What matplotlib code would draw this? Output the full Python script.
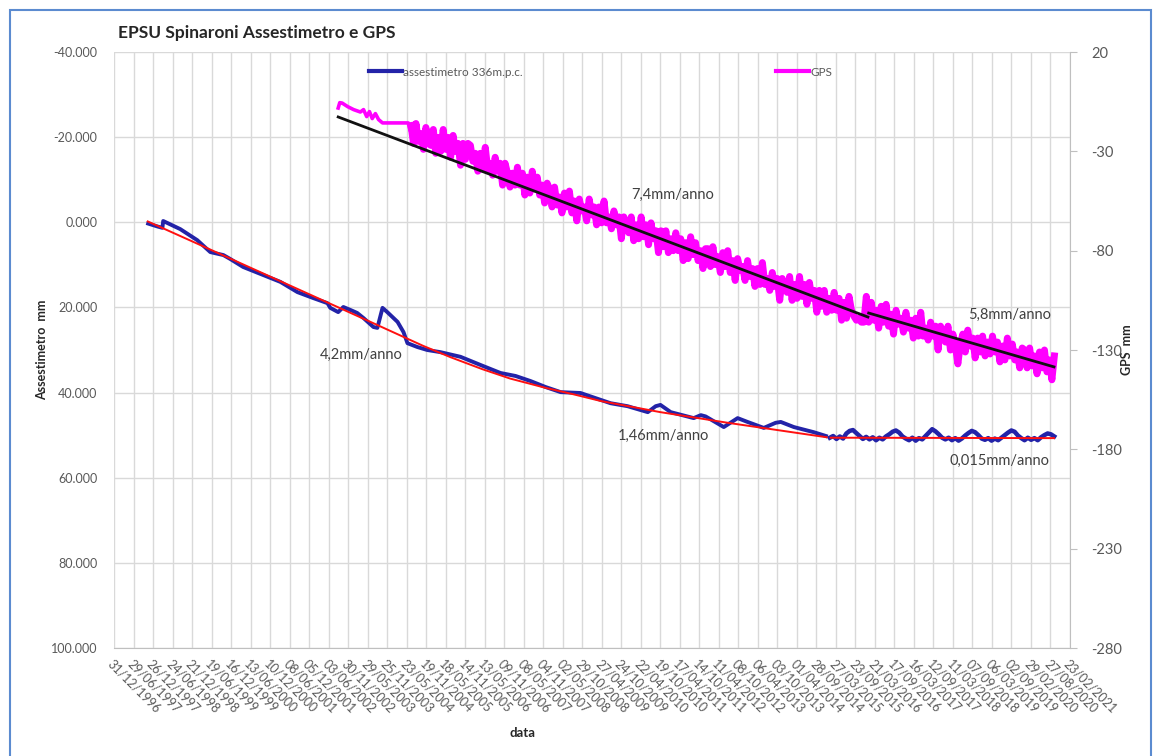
import numpy as np
import pandas as pd
import matplotlib
matplotlib.use("Agg")
import matplotlib.pyplot as plt
from matplotlib.lines import Line2D

plt.rcParams['font.family'] = ['Lato', 'DejaVu Sans']

# etichette asse x (passo 180 giorni, come in Excel)
date_labels = [
    "31/12/1996", "29/06/1997", "26/12/1997", "24/06/1998", "21/12/1998", "19/06/1999",
    "16/12/1999", "13/06/2000", "10/12/2000", "08/06/2001", "05/12/2001", "03/06/2002",
    "30/11/2002", "29/05/2003", "25/11/2003", "23/05/2004", "19/11/2004", "18/05/2005",
    "14/11/2005", "13/05/2006", "09/11/2006", "08/05/2007", "04/11/2007", "02/05/2008",
    "29/10/2008", "27/04/2009", "24/10/2009", "22/04/2010", "19/10/2010", "17/04/2011",
    "14/10/2011", "11/04/2012", "08/10/2012", "06/04/2013", "03/10/2013", "01/04/2014",
    "28/09/2014", "27/03/2015", "23/09/2015", "21/03/2016", "17/09/2016", "16/03/2017",
    "12/09/2017", "11/03/2018", "07/09/2018", "06/03/2019", "02/09/2019", "29/02/2020",
    "27/08/2020", "23/02/2021",
]
left_ticks = [-40, -20, 0, 20, 40, 60, 80, 100]
left_labels = ["-40.000", "-20.000", "0.000", "20.000", "40.000", "60.000", "80.000", "100.000"]
right_ticks = [20, -30, -80, -130, -180, -230, -280]

# assestimetro 336 m.p.c. (anno decimale, mm)
ass_years = [1997.86, 1998.10, 1998.22, 1998.24, 1998.67, 1999.10, 1999.43, 1999.76, 1999.93,
             2000.26, 2000.77, 2001.20, 2001.63, 2002.03, 2002.39, 2002.46, 2002.66, 2002.79,
             2002.97, 2003.14, 2003.30, 2003.55, 2003.65, 2003.78, 2003.90, 2004.16, 2004.31,
             2004.41, 2004.66, 2004.91, 2005.24, 2005.75, 2006.25, 2006.76, 2007.14, 2007.52,
             2007.90, 2008.28, 2008.78, 2009.16, 2009.54, 2009.97, 2010.48, 2010.68, 2010.80,
             2011.06, 2011.64, 2011.82, 2011.94, 2012.40, 2012.75, 2013.00, 2013.41, 2013.71,
             2013.84, 2014.17, 2014.67, 2014.98]
ass_mm = [0.3, 1.0, 1.3, -0.3, 1.6, 4.2, 7.0, 7.7, 8.6,
          10.5, 12.4, 14.0, 16.4, 17.8, 19.0, 20.1, 21.1, 19.9,
          20.6, 21.3, 22.5, 24.6, 24.8, 20.1, 21.1, 23.4, 25.8,
          28.4, 29.3, 30.0, 30.5, 31.6, 33.5, 35.4, 36.1, 37.3,
          38.7, 39.9, 40.1, 41.3, 42.5, 43.2, 44.6, 43.2, 42.9,
          44.6, 46.0, 45.3, 45.6, 48.1, 46.0, 46.9, 48.3, 47.1,
          46.9, 48.1, 49.3, 50.2]
# tratto finale (mensile dal 2015.08)
ass2_start = 2015.08
ass2_mm = [
    50.6, 50.2, 50.9, 50.3, 50.8, 49.6, 49.0, 48.8, 49.5, 50.2, 50.9, 50.4,
    51.0, 50.5, 51.2, 50.6, 51.0, 50.3, 49.8, 49.2, 48.9, 49.4, 50.3, 50.8,
    51.2, 50.6, 51.3, 50.7, 51.0, 50.2, 49.4, 48.6, 49.1, 49.8, 50.6, 51.0,
    50.6, 51.2, 50.7, 51.3, 50.8, 50.1, 49.5, 49.0, 49.3, 50.0, 50.8, 51.1,
    50.7, 51.3, 50.8, 51.2, 50.6, 50.0, 49.4, 48.9, 49.2, 50.1, 50.7, 51.2,
    50.6, 51.1, 50.7, 51.2, 50.5, 50.0, 49.6, 49.8, 50.3,
]

# linea di tendenza assestimetro
trend_years = [1997.85, 1999.0, 2000.5, 2002.0, 2003.5, 2004.8, 2005.5, 2006.3, 2007.0,
               2007.9, 2008.6, 2009.3, 2010.8, 2012.5, 2015.0]
trend_mm = [-0.2, 4.6, 10.9, 17.2, 23.5, 29.0, 31.7, 34.5, 36.7,
            38.9, 40.4, 42.0, 44.6, 47.1, 50.5]
flat_years = [2015.1, 2020.74]
flat_mm = [50.6, 50.7]

# GPS (mm)
gps_early_years = [2002.66, 2002.70, 2002.76, 2002.90, 2003.05, 2003.22, 2003.30, 2003.38,
                   2003.45, 2003.52, 2003.60, 2003.68, 2003.78, 2004.43, 2004.47]
gps_early_mm = [-8.2, -5.5, -5.7, -7.5, -9.0, -10.2, -9.0, -12.5,
                -10.0, -13.5, -11.0, -14.0, -15.7, -15.7, -19.0]
gps_start = 2004.5
gps_step = 1 / 16
gps_mm = [
    -17, -26, -16, -25, -21, -29, -18, -26,
    -27, -19, -31, -23, -30, -19, -29, -23, -33, -22, -30, -26, -37, -26, -34, -26,
    -27, -35, -31, -40, -31, -39, -28, -39, -36, -42, -33, -40, -36, -47, -36, -41,
    -48, -41, -47, -38, -47, -41, -52, -43, -51, -40, -49, -43, -52, -47, -56, -46,
    -49, -58, -48, -57, -53, -61, -51, -58, -50, -61, -55, -65, -54, -60, -58, -65,
    -54, -62, -58, -67, -58, -66, -55, -66, -63, -69, -60, -67, -63, -74, -63, -68,
    -71, -63, -75, -67, -74, -63, -73, -67, -77, -66, -74, -70, -81, -70, -78, -70,
    -81, -74, -80, -71, -80, -74, -85, -76, -84, -73, -82, -76, -85, -80, -89, -79,
    -79, -88, -78, -87, -83, -91, -81, -88, -80, -91, -85, -95, -84, -90, -88, -95,
    -85, -93, -89, -98, -89, -97, -86, -97, -94, -100, -91, -98, -94, -105, -94, -99,
    -101, -93, -105, -97, -104, -93, -103, -97, -107, -96, -104, -100, -111, -100, -108, -100,
    -111, -104, -110, -101, -110, -104, -115, -106, -114, -103, -110, -113, -115, -114, -116, -116,
    -103, -116, -106, -115, -110, -119, -108, -116, -107, -118, -112, -122, -110, -117, -114, -121,
    -111, -119, -115, -124, -114, -123, -111, -123, -119, -125, -116, -123, -118, -130, -118, -123,
    -126, -118, -130, -122, -128, -137, -127, -122, -131, -120, -128, -124, -134, -124, -131, -123,
    -133, -126, -132, -123, -131, -126, -136, -128, -135, -124, -133, -127, -135, -131, -139, -129,
    -130, -139, -129, -138, -133, -142, -131, -139, -130, -141, -135, -145, -133,
]
gps_trend1_years = [2002.66, 2016.04]
gps_trend1_mm = [-12.7, -113.4]
gps_trend2_years = [2016.06, 2020.74]
gps_trend2_mm = [-111.4, -138.5]


def yr(y):
    y = np.asarray(y, dtype=float)
    return pd.Timestamp("1997-01-01") + pd.to_timedelta((y - 1997) * 365.25, unit="D")


def main():
    W, H = 1155, 756
    fig = plt.figure(figsize=(W / 100, H / 100), dpi=100)
    ax = fig.add_axes([114 / W, 1 - 648 / H, (1070 - 114) / W, (648 - 52) / H])
    ax2 = ax.twinx()

    grid_c = "#D9D9D9"
    txt_c = "#595959"

    # bordo del grafico Excel
    fig.add_artist(plt.Rectangle((10 / W, -0.01), 1141 / W, 1 - 10 / H + 0.01,
                                 transform=fig.transFigure, fill=False,
                                 edgecolor="#5B8BD0", lw=1.5))

    xt = pd.to_datetime(date_labels, format="%d/%m/%Y")
    ax.set_xlim(xt[0], xt[-1])
    ax.set_xticks(xt)
    ax.set_xticklabels(date_labels, rotation=-45, ha="left", va="top",
                       fontsize=9, color=txt_c, rotation_mode="anchor")
    ax.tick_params(axis="x", length=0, pad=7)

    ax.set_ylim(100, -40)
    ax.set_yticks(left_ticks)
    ax.set_yticklabels(left_labels, fontsize=9, color=txt_c)
    ax.tick_params(axis="y", length=0, pad=12)

    ax.grid(True, color=grid_c, lw=1)
    ax.set_axisbelow(True)
    for s in ["top", "left", "right"]:
        ax.spines[s].set_visible(False)
    ax.spines["bottom"].set_color("#BFBFBF")

    ax2.set_ylim(-280, 20)
    ax2.set_yticks(right_ticks)
    ax2.set_yticklabels([str(t) for t in right_ticks], fontsize=10.5, color=txt_c)
    ax2.tick_params(axis="y", length=5, color="#BFBFBF", pad=10)
    for s in ["top", "left", "bottom"]:
        ax2.spines[s].set_visible(False)
    ax2.spines["right"].set_color("#BFBFBF")

    # assestimetro
    blue = "#2323A8"
    ass2_years = ass2_start + np.arange(len(ass2_mm)) / 12
    ax.plot(yr(ass_years), ass_mm, color=blue, lw=2.8, zorder=3)
    ax.plot(yr(ass2_years), ass2_mm, color=blue, lw=3.2, zorder=3)
    ax.plot(yr(trend_years), trend_mm, color="#FF1010", lw=1.4, zorder=4)
    ax.plot(yr(flat_years), flat_mm, color="#FF1010", lw=1.4, zorder=4)

    # GPS
    pink = "#FF00FF"
    gps_years = gps_start + np.arange(len(gps_mm)) * gps_step
    ax2.plot(yr(gps_early_years), gps_early_mm, color=pink, lw=2.6, zorder=3)
    ax2.plot(yr(gps_years), gps_mm, color=pink, lw=5, zorder=3)
    ax2.plot(yr(gps_trend1_years), gps_trend1_mm, color="#111111", lw=2.0, zorder=4)
    ax2.plot(yr(gps_trend2_years), gps_trend2_mm, color="#111111", lw=2.0, zorder=4)

    # etichette velocità
    ann_c = "#404040"
    ax.text(yr(2002.2), 31.2, "4,2mm/anno", fontsize=10.5, color=ann_c, va="center")
    ax.text(yr(2009.72), 50.2, "1,46mm/anno", fontsize=10.5, color=ann_c, va="center")
    ax.text(yr(2018.09), 56.1, "0,015mm/anno", fontsize=10.5, color=ann_c, va="center")
    ax2.text(yr(2010.05), -52, "7,4mm/anno", fontsize=10.5, color=ann_c, va="center")
    ax2.text(yr(2018.57), -112.4, "5,8mm/anno", fontsize=10.5, color=ann_c, va="center")

    # titolo e assi
    fig.text(118 / W, 1 - 33 / H, "EPSU Spinaroni Assestimetro e GPS", fontsize=12.5,
             fontweight="bold", color="#262626", va="center")
    fig.text(42 / W, 1 - 350 / H, "Assestimetro  mm", rotation=90, fontsize=9,
             fontweight="bold", color="#262626", ha="center", va="center")
    fig.text(1127 / W, 1 - 350 / H, "GPS  mm", rotation=90, fontsize=9,
             fontweight="bold", color="#262626", ha="center", va="center")
    fig.text(522 / W, 1 - 733 / H, "data", fontsize=9.5, fontweight="bold",
             color="#262626", ha="center", va="center")

    # legenda
    h1 = Line2D([], [], color=blue, lw=3)
    h2 = Line2D([], [], color=pink, lw=3)
    ax2.legend([h1, h2], ["assestimetro 336m.p.c.", "GPS"], ncol=2, frameon=False,
               loc="center left", bbox_to_anchor=(358 / W, 1 - 72 / H),
               bbox_transform=fig.transFigure, fontsize=8.5, labelcolor=txt_c,
               handlelength=2.8, handletextpad=0.1, columnspacing=21.5)

    fig.savefig("out.png", dpi=100)


if __name__ == "__main__":
    main()
